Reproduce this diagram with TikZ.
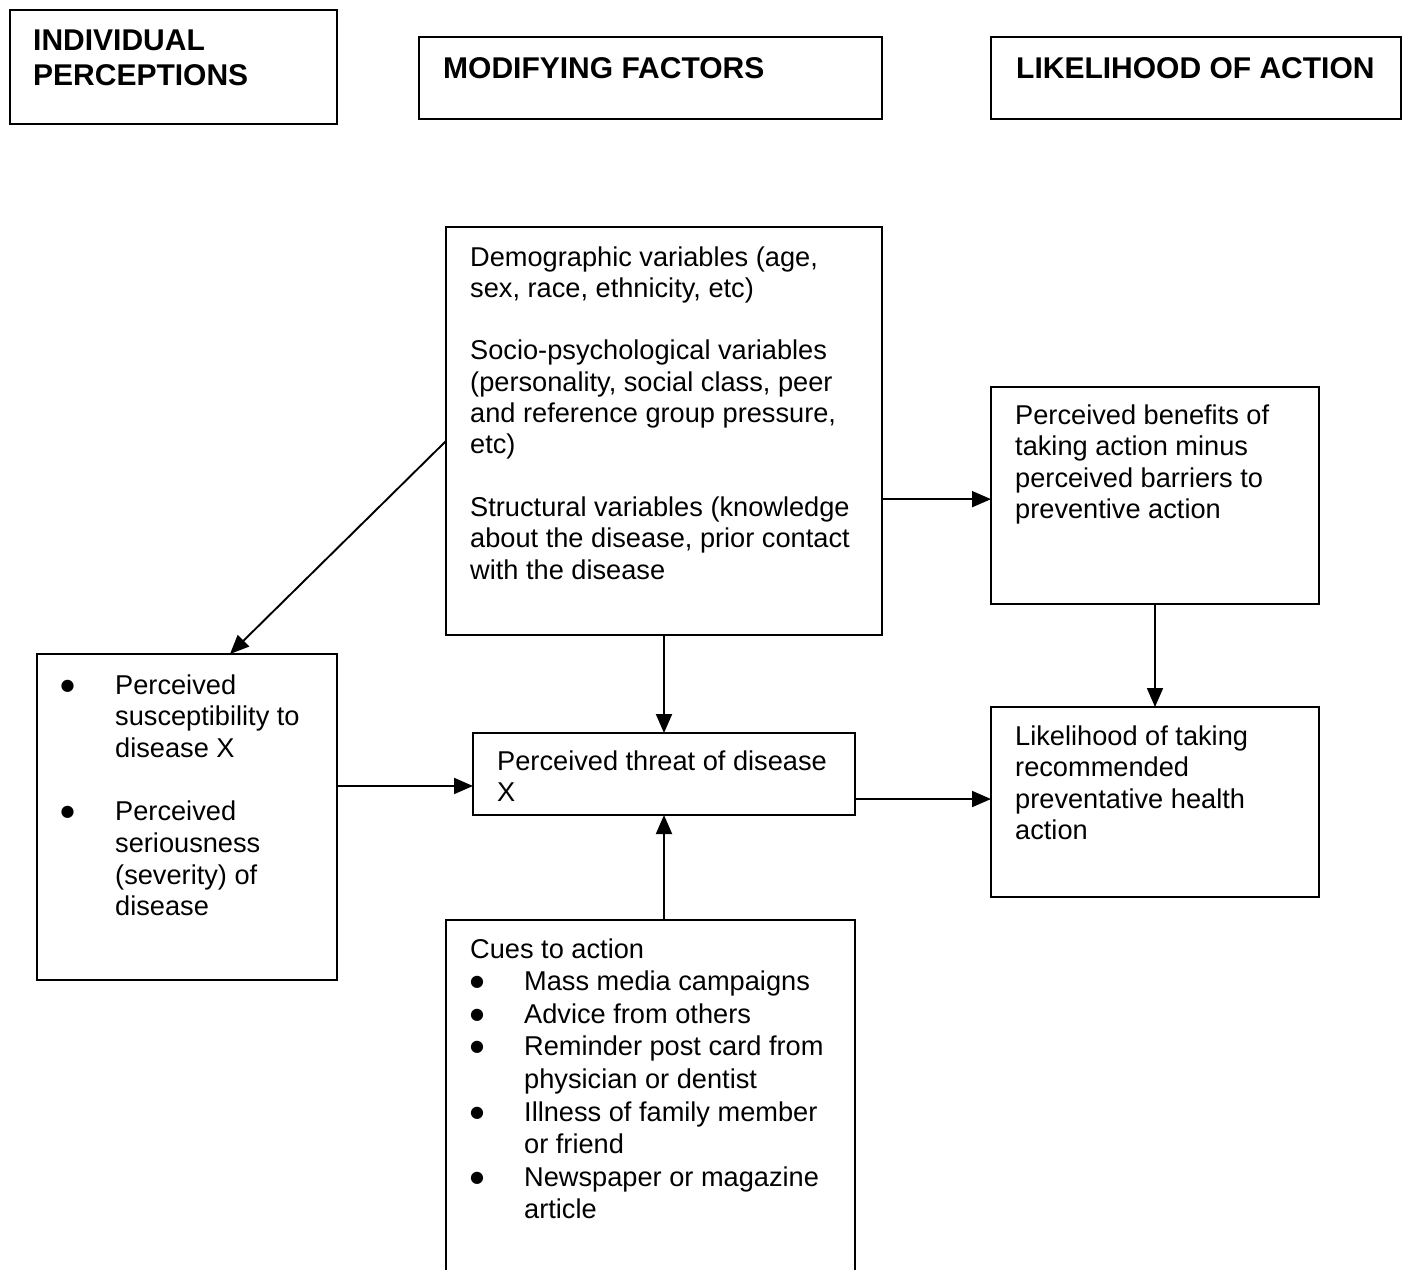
\documentclass[tikz,border=0pt]{standalone}
\usepackage{fontspec}
\setmainfont{Liberation Sans}
\newfontfamily\symfont{DejaVu Sans}
\usetikzlibrary{arrows.meta,calc}
\newcommand{\bul}[1]{\makebox[#1][l]{\raisebox{4pt}{\symfont\fontsize{16}{16}\selectfont ●}}}
\begin{document}
\begin{tikzpicture}[x=1pt,y=-1pt,
  boxst/.style={draw, line width=1.9pt, rectangle, inner sep=0pt, outer sep=0pt, anchor=north west},
  hdr/.style={anchor=base west, inner sep=0pt, font=\fontsize{30}{35}\selectfont\bfseries},
  txt/.style={anchor=base west, inner sep=0pt, font=\fontsize{27.2}{31.3}\selectfont},
  arr/.style={line width=1.9pt, -{Triangle[length=19pt,width=16pt]}}]
\useasboundingbox (0,0) rectangle (1405,1269);
\clip (0,0) rectangle (1405,1269);
\fill[white] (0,0) rectangle (1405,1269);

% boxes
\node[boxst, minimum width=327pt, minimum height=114pt] (h1) at (10,10) {};
\node[boxst, minimum width=463pt, minimum height=82pt] (h2) at (419,37) {};
\node[boxst, minimum width=410pt, minimum height=82pt] (h3) at (991,37) {};
\node[boxst, minimum width=436pt, minimum height=408pt] (demo) at (446,227) {};
\node[boxst, minimum width=328pt, minimum height=217pt] (ben) at (991,387) {};
\node[boxst, minimum width=300pt, minimum height=326pt] (left) at (37,654) {};
\node[boxst, minimum width=382pt, minimum height=82pt] (thr) at (473,733) {};
\node[boxst, minimum width=328pt, minimum height=190pt] (lik) at (991,707) {};
\node[boxst, minimum width=409pt, minimum height=380pt] (cues) at (446,920) {};

% header texts
\node[hdr] (h1t) at (33,50.5) {\begin{tabular}[t]{@{}l@{}}INDIVIDUAL\\PERCEPTIONS\end{tabular}};
\node[hdr] (h2t) at (443,78) {MODIFYING FACTORS};
\node[hdr] (h3t) at (1016,78) {LIKELIHOOD OF ACTION};

% body texts
\node[txt] (demot) at (470,266) {\begin{tabular}[t]{@{}l@{}}
Demographic variables (age,\\
sex, race, ethnicity, etc)\\
\\
Socio-psychological variables\\
(personality, social class, peer\\
and reference group pressure,\\
etc)\\
\\
Structural variables (knowledge\\
about the disease, prior contact\\
with the disease\end{tabular}};

\node[txt] (bent) at (1015,424.5) {\begin{tabular}[t]{@{}l@{}}
Perceived benefits of\\
taking action minus\\
perceived barriers to\\
preventive action\end{tabular}};

\node[txt] (likt) at (1015,745.5) {\begin{tabular}[t]{@{}l@{}}
Likelihood of taking\\
recommended\\
preventative health\\
action\end{tabular}};

\node[txt] (thrt) at (497,770.5) {\begin{tabular}[t]{@{}l@{}}
Perceived threat of disease\\
X\end{tabular}};

\node[txt, font=\fontsize{27.2}{31.7}\selectfont] (leftt) at (60.5,694) {\begin{tabular}[t]{@{}l@{}l@{}}
\bul{54.5pt} & Perceived\\
 & susceptibility to\\
 & disease X\\
 & \\
\bul{54.5pt} & Perceived\\
 & seriousness\\
 & (severity) of\\
 & disease\end{tabular}};

\node[txt, font=\fontsize{27.2}{32.6}\selectfont] (cuest) at (470,958) {\begin{tabular}[t]{@{}l@{}l@{}}
\multicolumn{2}{@{}l@{}}{Cues to action}\\
\bul{54pt} & Mass media campaigns\\
\bul{54pt} & Advice from others\\
\bul{54pt} & Reminder post card from\\
 & physician or dentist\\
\bul{54pt} & Illness of family member\\
 & or friend\\
\bul{54pt} & Newspaper or magazine\\
 & article\end{tabular}};

% connectors
\coordinate (demout) at ($(demo.north east)!0.667!(demo.south east)$);
\coordinate (thrin) at ($(thr.north west)!0.646!(thr.south west)$);
\coordinate (throut) at ($(thr.north east)!0.805!(thr.south east)$);
\draw[arr] ([yshift=-214pt]demo.north west) -- ([xshift=193pt]left.north west);
\draw[arr] (demout) -- (demout -| ben.west);
\draw[arr] (demo.south) -- (thr.north);
\draw[arr] (thrin -| left.east) -- (thrin);
\draw[arr] (throut) -- (throut -| lik.west);
\draw[arr] (ben.south) -- (lik.north);
\draw[arr] (cues.north -| thr.south) -- (thr.south);
\end{tikzpicture}
\end{document}
